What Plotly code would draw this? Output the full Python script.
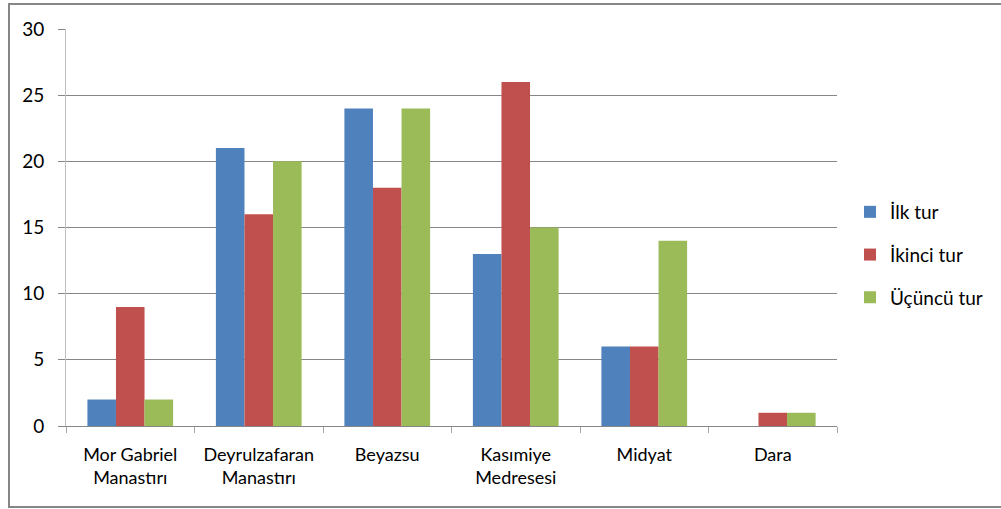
import plotly.graph_objects as go

# Categories (two-line labels) and the three rounds of counts
categories = [
    "Mor Gabriel<br>Manastırı",
    "Deyrulzafaran<br>Manastırı",
    "Beyazsu",
    "Kasımiye<br>Medresesi",
    "Midyat",
    "Dara",
]
ilk_tur = [2, 21, 24, 13, 6, 0]
ikinci_tur = [9, 16, 18, 26, 6, 1]
ucuncu_tur = [2, 20, 24, 15, 14, 1]

series_names = ["İlk tur", "İkinci tur", "Üçüncü tur"]
series_values = [ilk_tur, ikinci_tur, ucuncu_tur]
series_colors = ["#4F81BD", "#C0504D", "#9BBB59"]

y_ticks = [0, 5, 10, 15, 20, 25, 30]

FONT = "Lato"
GRID = "#868686"

fig = go.Figure()
for name, vals, color in zip(series_names, series_values, series_colors):
    fig.add_trace(
        go.Bar(
            x=categories,
            y=vals,
            name=name,
            legendgroup=name,
            marker=dict(color=color, line=dict(width=0)),
        )
    )

W, H = 1001, 509
L, R, T, B = 66, 164, 29, 83

fig.update_layout(
    width=W,
    height=H,
    margin=dict(l=L, r=R, t=T, b=B, pad=0),
    paper_bgcolor="white",
    plot_bgcolor="white",
    barmode="group",
    bargap=0.333,
    bargroupgap=0,
    font=dict(family=FONT, size=18, color="#000000"),
    legend=dict(
        x=(850 - L) / (W - L - R),
        xanchor="left",
        y=0.5 + (426 - 255 - (426 - T) / 2) / (426 - T),
        yanchor="middle",
        font=dict(family=FONT, size=19, color="#000000"),
        tracegroupgap=15,
        bgcolor="rgba(0,0,0,0)",
    ),
    xaxis=dict(
        type="category",
        showgrid=False,
        showline=True,
        linecolor=GRID,
        linewidth=1,
        ticks="outside",
        tickson="boundaries",
        ticklen=6,
        tickcolor="#A6A6A6",
        ticklabelstandoff=12,
        tickfont=dict(family=FONT, size=18, color="#000000"),
    ),
    yaxis=dict(
        range=[0, 30],
        tickvals=y_ticks,
        showgrid=True,
        gridcolor=GRID,
        gridwidth=1,
        zeroline=False,
        showline=True,
        linecolor="#BFBFBF",
        linewidth=1,
        ticks="outside",
        ticklen=7,
        tickcolor=GRID,
        ticklabelstandoff=10,
        tickfont=dict(family=FONT, size=19, color="#000000"),
    ),
)

# Outer chart frame
pw, ph = W - L - R, H - T - B
fig.add_shape(
    type="rect",
    xref="paper",
    yref="paper",
    x0=(9 - L) / pw,
    x1=(1004 - L) / pw,
    y0=(H - B - 507) / ph,
    y1=(H - B - 4) / ph,
    line=dict(color="#868686", width=2),
    fillcolor="rgba(0,0,0,0)",
    layer="below",
)

fig.write_html("out.html")
